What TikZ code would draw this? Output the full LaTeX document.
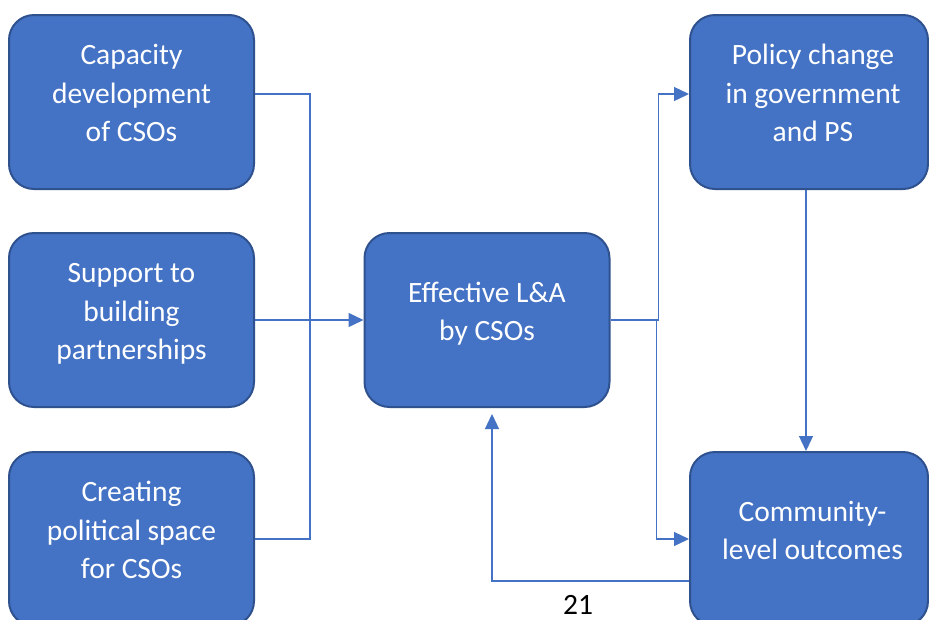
\documentclass[tikz,border=0pt]{standalone}
\usepackage{fontspec}
\setmainfont{Carlito}
\usetikzlibrary{arrows.meta}
\definecolor{boxfill}{HTML}{4472C4}
\definecolor{boxedge}{HTML}{2F528F}
\definecolor{linkcol}{HTML}{4472C4}
\tikzset{
  stage/.style={rounded corners=25pt, fill=boxfill, draw=boxedge, line width=2pt,
    minimum width=245pt, minimum height=174pt, inner sep=0pt, text=white,
    align=center, font=\fontsize{29.5}{38.5}\selectfont},
  link/.style={draw=linkcol, line width=1.3pt},
  flow/.style={link, -{Triangle[length=15pt,width=14pt]}},
}
% centred text block hung on the math axis, so it sits a little above the box centre;
% the optional argument pushes the block sideways
\newcommand{\stagetext}[2][0pt]{\raisebox{0pt}[0pt][0pt]{\hspace*{#1}\begin{tabular}{@{}c@{}}#2\end{tabular}}}
\begin{document}
\begin{tikzpicture}[x=1pt,y=-1pt]
\useasboundingbox (0,0) rectangle (929,619);
\fill[white] (0,0) rectangle (929,619);
\clip (0,0) rectangle (929,619);

% input boxes
\node[stage] (cap) at (131.5,102) {\stagetext{Capacity\\development\\of CSOs}};
\node[stage] (supp) at (131.5,320) {\stagetext{Support to\\building\\partnerships}};
\node[stage] (create) at (131.5,539) {\stagetext{Creating\\political space\\for CSOs}};

% central box
\node[stage] (eff) at (487,320) {\stagetext{Effective L\&A\\by CSOs}};

% outcome boxes
\node[stage, minimum width=238pt] (pol) at (809,102) {\stagetext[8pt]{Policy change\\in government\\and PS}};
\node[stage, minimum width=238pt] (com) at (809,539) {\stagetext[7pt]{Community-\\level outcomes}};

% inputs merge into the central box
\draw[link] ([yshift=8pt]cap.east) -| ([xshift=55pt]create.east) -- (create.east);
\draw[flow] (supp.east) -- (eff.west);

% central box to outcomes
\draw[flow] (eff.east) -- ++(48,0) |- ([yshift=8pt]pol.west);
\draw[flow] (eff.east) -- ++(46,0) |- (com.west);
\draw[flow] ([xshift=-3pt]pol.south) -- ([xshift=-3pt]com.north);

% feedback loop
\draw[flow] ([yshift=-42pt]com.west) -| ([xshift=5pt,yshift=-6pt]eff.south);

% page number
\node[font=\fontsize{29.5}{34}\selectfont, text=black, inner sep=0pt] (pg) at (578,605) {21};
\end{tikzpicture}
\end{document}
